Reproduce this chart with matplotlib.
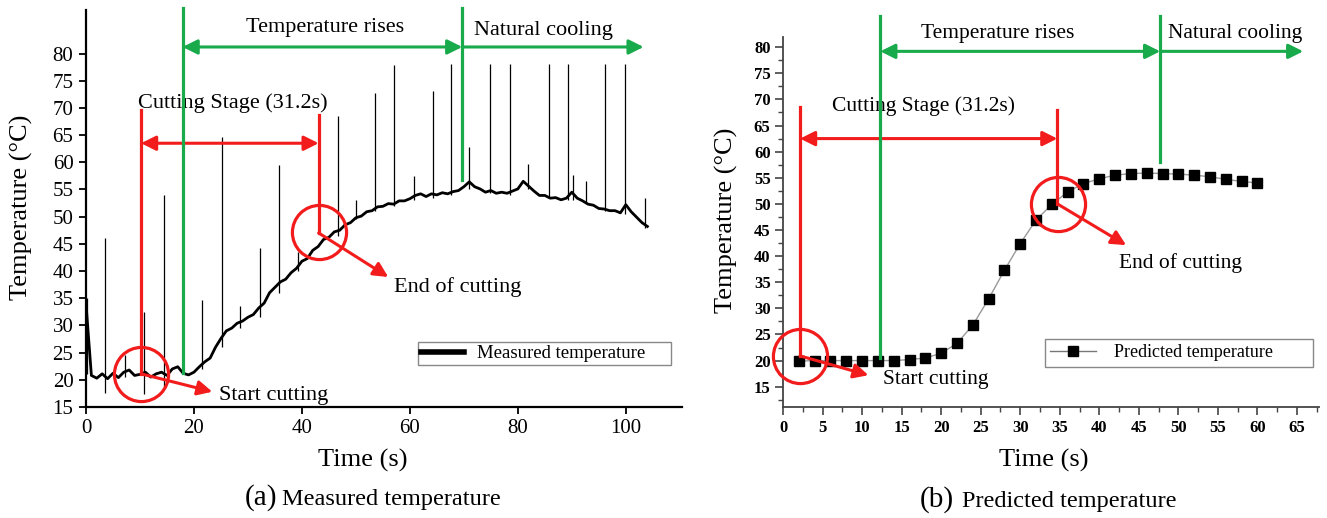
import matplotlib.pyplot as plt
from matplotlib.lines import Line2D
from matplotlib.ticker import MultipleLocator

plt.rcParams["font.family"] = ["Liberation Serif", "DejaVu Serif"]

# (a) measured temperature
meas_time = list(range(0, 105))
meas_temp = [
    34.0, 20.8, 20.3, 21.1, 20.2, 21.2, 20.4, 21.4, 21.8, 20.8,
    21.0, 21.4, 20.5, 21.1, 21.4, 20.8, 22.0, 22.4, 21.2, 20.9,
    21.4, 22.4, 23.3, 24.0, 26.0, 27.6, 29.0, 29.5, 30.4, 30.8,
    31.5, 32.0, 33.2, 34.1, 36.0, 37.0, 38.0, 38.5, 39.7, 40.5,
    41.8, 42.3, 43.8, 44.5, 45.8, 46.2, 47.2, 47.5, 48.5, 48.9,
    49.8, 50.1, 50.9, 51.1, 51.8, 51.9, 52.4, 52.3, 52.9, 52.9,
    53.3, 53.9, 54.2, 53.7, 54.2, 54.0, 54.4, 54.2, 54.6, 54.8,
    55.5, 56.4, 55.5, 55.1, 54.5, 54.8, 54.3, 54.5, 54.3, 54.7,
    55.1, 56.5, 55.6, 54.7, 53.9, 53.9, 53.4, 53.5, 53.1, 53.4,
    54.5, 53.4, 52.9, 52.3, 52.1, 51.5, 51.4, 51.1, 51.1, 50.7,
    52.2, 50.9, 49.9, 48.9, 48.2,
]

# (a) short spikes in the measured signal: time, lowest and highest value
spike_time = [0.2, 3.6, 7.3, 10.8, 14.4, 21.4, 25.2, 28.6, 32.3, 35.7,
              39.3, 46.6, 50.1, 53.5, 57.1, 60.8, 64.2, 67.7, 71.0, 74.9,
              78.6, 81.8, 85.7, 89.3, 90.3, 92.6, 96.2, 99.9, 103.6]
spike_low = [21.0, 17.5, 20.5, 17.3, 18.5, 22.0, 26.0, 29.5, 31.5, 36.0,
             40.0, 46.5, 49.5, 51.0, 52.0, 53.0, 53.5, 54.0, 55.0, 54.3,
             54.0, 55.0, 53.5, 53.0, 53.0, 52.5, 51.0, 50.5, 48.0]
spike_high = [35.0, 46.0, 24.5, 32.5, 54.0, 34.7, 64.7, 33.5, 44.2, 59.5,
              43.5, 68.5, 53.0, 72.7, 77.9, 57.5, 73.1, 78.0, 62.8, 78.0,
              78.0, 59.7, 78.0, 78.0, 57.6, 56.5, 78.0, 78.0, 53.5]

# (b) predicted temperature
pred_time = list(range(2, 61, 2))
pred_temp = [19.9, 20.0, 20.0, 20.0, 20.0, 20.0, 20.0, 20.2, 20.5, 21.4,
             23.3, 26.8, 31.8, 37.3, 42.4, 46.9, 49.9, 52.3, 53.9, 54.8,
             55.5, 55.8, 55.9, 55.8, 55.7, 55.5, 55.2, 54.7, 54.3, 54.0]

RED = "#f21c1c"
GREEN = "#19aa4c"


def arrow(ax, start, end, color, both=False):
    ax.annotate("", xy=end, xytext=start, annotation_clip=False,
                arrowprops=dict(arrowstyle="<|-|>" if both else "-|>", color=color,
                                lw=2.2, mutation_scale=22, shrinkA=0, shrinkB=0))


def stages(ax, g, fs):
    # cutting stage (red)
    for x, top, bot in zip(g["cut"], g["cut_top"], g["cut_bot"]):
        ax.plot([x, x], [bot, top], color=RED, lw=2.3, clip_on=False, zorder=4)
    arrow(ax, (g["cut"][0], g["cut_y"]), (g["cut"][1], g["cut_y"]), RED, both=True)
    ax.text(*g["cut_text"], "Cutting Stage (31.2s)", fontsize=fs, ha="center", va="center")
    for c in g["circles"]:
        ax.plot(*c, marker="o", ms=39, mfc="none", mec=RED, mew=2.3, clip_on=False, zorder=5)
    arrow(ax, (g["cut"][0], g["cut_bot"][0]), g["start_head"], RED)
    arrow(ax, (g["cut"][1], g["cut_bot"][1]), g["end_head"], RED)
    ax.text(*g["start_text"], "Start cutting", fontsize=fs, ha="left", va="center")
    ax.text(*g["end_text"], "End of cutting", fontsize=fs, ha="left", va="center")
    # heating / cooling (green)
    for x, top, bot in zip(g["green"], g["green_top"], g["green_bot"]):
        ax.plot([x, x], [bot, top], color=GREEN, lw=2.3, clip_on=False, zorder=4)
    arrow(ax, (g["green"][0], g["green_y"]), (g["green"][1], g["green_y"]), GREEN, both=True)
    arrow(ax, (g["green"][1], g["green_y"]), (g["green_end"], g["green_y"]), GREEN)
    ax.text(*g["rise_text"], "Temperature rises", fontsize=fs, ha="center", va="center")
    ax.text(*g["cool_text"], "Natural cooling", fontsize=fs, ha="center", va="center")


fig = plt.figure(figsize=(13.27, 5.18), dpi=100)

# ---------------- (a) measured ----------------
ax1 = fig.add_axes([0.0648, 0.2143, 0.4491, 0.7664])
ax1.vlines(spike_time, spike_low, spike_high, color="black", lw=0.9, zorder=3)
ax1.plot(meas_time, meas_temp, color="black", lw=2.0, zorder=3)
ax1.set_xlim(0, 110.4)
ax1.set_ylim(15, 88)
ax1.set_xticks(range(0, 101, 20))
ax1.set_yticks(range(15, 81, 5))
ax1.tick_params(labelsize=15, length=5, width=1.3, pad=4)
for s in ["top", "right"]:
    ax1.spines[s].set_visible(False)
for s in ["left", "bottom"]:
    ax1.spines[s].set_linewidth(1.6)
ax1.set_xlabel("Time (s)", fontsize=19)
ax1.xaxis.set_label_coords(0.465, -0.105)
ax1.set_ylabel("Temperature (°C)", fontsize=19)
ax1.yaxis.set_label_coords(-0.089, 0.504)
leg1 = ax1.legend([Line2D([], [], color="black", lw=4)], ["Measured temperature"],
                  loc="center", bbox_to_anchor=(0.542, 0.098, 0.455, 0.073), mode="expand",
                  fontsize=13.5, fancybox=False, edgecolor="#888888", borderpad=0.15,
                  handlelength=2.3, handletextpad=0.7, framealpha=1)
leg1.get_frame().set_linewidth(1.0)

stages(ax1, dict(
    cut=(10.2, 43.1), cut_top=(69.6, 68.7), cut_bot=(21.1, 47.0), cut_y=63.5,
    cut_text=(27.2, 70.9), circles=[(10.2, 21.1), (43.1, 47.2)],
    start_head=(23.4, 17.8), end_head=(56.0, 38.9),
    start_text=(24.6, 17.2), end_text=(57.0, 37.0),
    green=(17.9, 69.7), green_top=(88.4, 88.4), green_bot=(21.2, 56.7), green_y=81.2,
    green_end=103.3, rise_text=(44.3, 84.8), cool_text=(84.8, 84.3),
), fs=16)

# ---------------- (b) predicted ----------------
ax2 = fig.add_axes([0.5901, 0.2137, 0.4039, 0.7154])
ax2.plot(pred_time, pred_temp, color="#999999", lw=1.0, marker="s", ms=6.5,
         mfc="black", mec="black", zorder=3)
ax2.set_xlim(0, 67.8)
ax2.set_ylim(11.06, 82)
ax2.xaxis.set_major_locator(MultipleLocator(5))
ax2.xaxis.set_minor_locator(MultipleLocator(2.5))
ax2.set_yticks(range(15, 81, 5))
ax2.yaxis.set_minor_locator(MultipleLocator(2.5))
ax2.tick_params(which="major", labelsize=12, length=6, width=1.2, pad=3, color="#444444")
ax2.tick_params(which="minor", length=3.5, width=1.0, color="#444444")
for lab in ax2.get_xticklabels() + ax2.get_yticklabels():
    lab.set_fontweight("bold")
for s in ["top", "right"]:
    ax2.spines[s].set_visible(False)
for s in ["left", "bottom"]:
    ax2.spines[s].set_linewidth(1.3)
    ax2.spines[s].set_color("#444444")
ax2.set_xlabel("Time (s)", fontsize=19)
ax2.xaxis.set_label_coords(0.487, -0.112)
ax2.set_ylabel("Temperature (°C)", fontsize=19)
ax2.yaxis.set_label_coords(-0.084, 0.505)
leg2 = ax2.legend([Line2D([], [], color="#777777", lw=1.0, marker="s", ms=7, mfc="black", mec="black")],
                  ["Predicted temperature"],
                  loc="center", bbox_to_anchor=(0.472, 0.103, 0.534, 0.089), mode="expand",
                  fontsize=13, fancybox=False, edgecolor="#888888", borderpad=0.3,
                  handlelength=2.5, handletextpad=1.0, framealpha=1)
leg2.get_frame().set_linewidth(1.0)

stages(ax2, dict(
    cut=(2.15, 34.7), cut_top=(68.6, 67.9), cut_bot=(20.9, 50.0), cut_y=62.5,
    cut_text=(17.8, 68.7), circles=[(2.1, 20.9), (34.8, 50.0)],
    start_head=(10.8, 17.2), end_head=(43.4, 42.1),
    start_text=(12.7, 16.3), end_text=(42.5, 38.6),
    green=(12.3, 47.7), green_top=(85.9, 86.0), green_bot=(20.5, 58.0), green_y=79.2,
    green_end=65.8, rise_text=(27.2, 82.6), cool_text=(57.2, 82.7),
), fs=15.5)

# captions
fig.text(277 / 1327, 1 - 498 / 518, "(a)", fontsize=21, ha="right", va="center")
fig.text(282 / 1327, 1 - 499 / 518, "Measured temperature", fontsize=17.5, ha="left", va="center")
fig.text(954 / 1327, 1 - 500 / 518, "(b)", fontsize=21, ha="right", va="center")
fig.text(962 / 1327, 1 - 501 / 518, "Predicted temperature", fontsize=17.5, ha="left", va="center")

fig.savefig("out.png", dpi=100)
